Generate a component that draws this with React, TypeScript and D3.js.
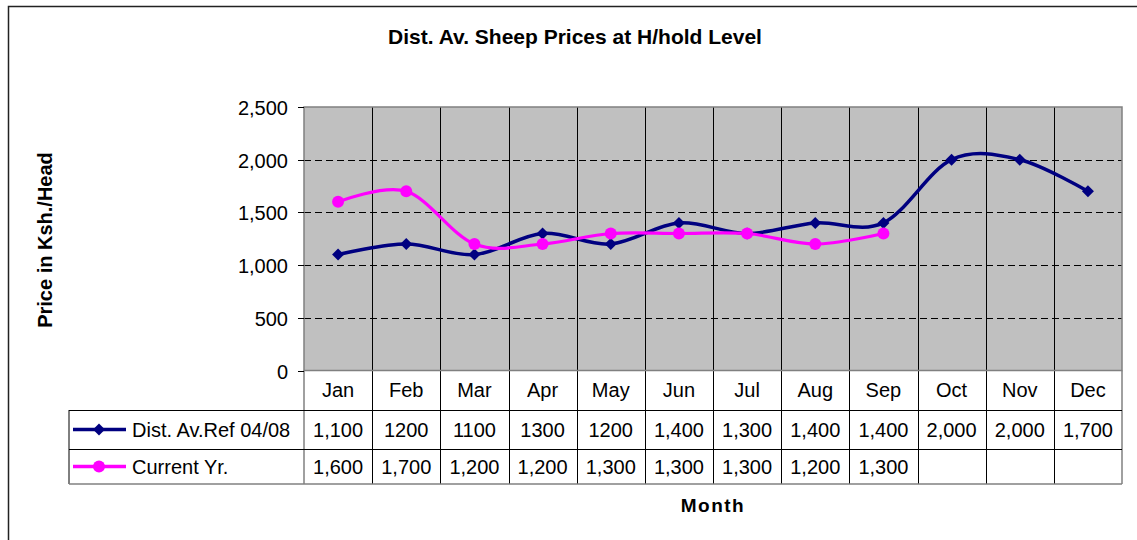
import * as d3 from "d3";
import { useEffect, useRef } from "react";

const months = ["Jan", "Feb", "Mar", "Apr", "May", "Jun", "Jul", "Aug", "Sep", "Oct", "Nov", "Dec"];
const refValues = [1100, 1200, 1100, 1300, 1200, 1400, 1300, 1400, 1400, 2000, 2000, 1700];
const refLabels = ["1,100", "1200", "1100", "1300", "1200", "1,400", "1,300", "1,400", "1,400", "2,000", "2,000", "1,700"];
const curValues = [1600, 1700, 1200, 1200, 1300, 1300, 1300, 1200, 1300];
const curLabels = ["1,600", "1,700", "1,200", "1,200", "1,300", "1,300", "1,300", "1,200", "1,300"];
const yTicks = [0, 500, 1000, 1500, 2000, 2500];

const FONT = "'Liberation Sans', Arial, sans-serif";

export default function App() {
    const svgRef = useRef<SVGSVGElement | null>(null);

    useEffect(() => {
        if (!svgRef.current) return;
        const svg = d3.select(svgRef.current);
        svg.selectAll("*").remove();

        const W = 1137;
        const H = 540;
        const left = 304;
        const right = 1122;
        const top = 107;
        const bottom = 370.5;
        const rowH = [372, 410, 449, 484];
        const legendLeft = 69;

        svg.attr("width", W).attr("height", H);

        // outer frame
        svg.append("rect")
            .attr("x", 8.5).attr("y", 6.5)
            .attr("width", W + 10).attr("height", H + 10)
            .attr("fill", "#fff").attr("stroke", "#222").attr("stroke-width", 1.5);

        const x = d3.scaleBand<string>().domain(months).range([left, right]);
        const y = d3.scaleLinear().domain([0, 2500]).range([bottom, top]);
        const cx = (m: string) => x(m)! + x.bandwidth() / 2;

        // plot area
        svg.append("rect")
            .attr("x", left).attr("y", top)
            .attr("width", right - left).attr("height", bottom - top)
            .attr("fill", "#c0c0c0");

        yTicks.filter((t) => t > 0 && t < 2500).forEach((t) => {
            svg.append("line")
                .attr("x1", left).attr("x2", right)
                .attr("y1", Math.round(y(t)) + 0.5).attr("y2", Math.round(y(t)) + 0.5)
                .attr("stroke", "#000").attr("stroke-dasharray", "7,4");
        });

        // vertical category lines through plot and table
        months.slice(1).forEach((m) => {
            const xx = Math.round(x(m)!) + 0.5;
            svg.append("line")
                .attr("x1", xx).attr("x2", xx)
                .attr("y1", top).attr("y2", rowH[3])
                .attr("stroke", "#000").attr("stroke-width", 1);
        });

        svg.append("rect")
            .attr("x", left).attr("y", top)
            .attr("width", right - left).attr("height", bottom - top)
            .attr("fill", "none").attr("stroke", "#808080").attr("stroke-width", 1.5);

        // table
        const tbl = svg.append("g").attr("stroke", "#000").attr("stroke-width", 1);
        tbl.append("line").attr("x1", left).attr("x2", left).attr("y1", bottom).attr("y2", rowH[3]).attr("stroke", "#808080").attr("stroke-width", 1.5);
        tbl.append("line").attr("x1", right).attr("x2", right).attr("y1", bottom).attr("y2", rowH[3]).attr("stroke", "#808080").attr("stroke-width", 1.5);
        tbl.append("line").attr("x1", legendLeft).attr("x2", legendLeft).attr("y1", rowH[1]).attr("y2", rowH[3]);
        tbl.append("line").attr("x1", legendLeft).attr("x2", right).attr("y1", rowH[1] + 0.5).attr("y2", rowH[1] + 0.5);
        tbl.append("line").attr("x1", legendLeft).attr("x2", right).attr("y1", rowH[2] + 0.5).attr("y2", rowH[2] + 0.5);
        tbl.append("line").attr("x1", legendLeft).attr("x2", right).attr("y1", rowH[3]).attr("y2", rowH[3]).attr("stroke", "#808080").attr("stroke-width", 1.5);

        const textG = svg.append("g").attr("font-family", FONT).attr("font-size", 20).attr("fill", "#000");
        months.forEach((m) => {
            textG.append("text").attr("x", cx(m)).attr("y", (rowH[0] + rowH[1]) / 2 + 6)
                .attr("text-anchor", "middle").text(m);
        });
        refLabels.forEach((l, i) => {
            textG.append("text").attr("x", cx(months[i])).attr("y", (rowH[1] + rowH[2]) / 2 + 7)
                .attr("text-anchor", "middle").text(l);
        });
        curLabels.forEach((l, i) => {
            textG.append("text").attr("x", cx(months[i])).attr("y", (rowH[2] + rowH[3]) / 2 + 7)
                .attr("text-anchor", "middle").text(l);
        });

        // y axis
        yTicks.forEach((t) => {
            const yy = Math.round(y(t)) + 0.5;
            svg.append("line").attr("x1", left - 6).attr("x2", left).attr("y1", yy).attr("y2", yy)
                .attr("stroke", "#000");
            textG.append("text").attr("x", left - 16).attr("y", yy + 7)
                .attr("text-anchor", "end").text(d3.format(",")(t));
        });

        // series
        const line = d3.line<number>()
            .x((d, i) => cx(months[i]))
            .y((d) => y(d))
            .curve(d3.curveCatmullRom.alpha(0));

        svg.append("path").datum(refValues)
            .attr("fill", "none").attr("stroke", "#000080").attr("stroke-width", 3.5)
            .attr("d", line);
        svg.append("path").datum(curValues)
            .attr("fill", "none").attr("stroke", "#ff00ff").attr("stroke-width", 3.2)
            .attr("d", line);

        const diamond = d3.symbol().type(d3.symbolSquare).size(72);
        refValues.forEach((v, i) => {
            svg.append("path").attr("d", diamond())
                .attr("transform", `translate(${cx(months[i])},${y(v)}) rotate(45)`)
                .attr("fill", "#000080");
        });
        curValues.forEach((v, i) => {
            svg.append("circle").attr("cx", cx(months[i])).attr("cy", y(v)).attr("r", 6)
                .attr("fill", "#ff00ff");
        });

        // legend keys
        const legendRows = [
            { y: (rowH[1] + rowH[2]) / 2, color: "#000080", label: "Dist. Av.Ref 04/08", marker: "diamond" },
            { y: (rowH[2] + rowH[3]) / 2, color: "#ff00ff", label: "Current Yr.", marker: "circle" },
        ];
        legendRows.forEach((r) => {
            svg.append("line").attr("x1", 73).attr("x2", 126).attr("y1", r.y).attr("y2", r.y)
                .attr("stroke", r.color).attr("stroke-width", 3.5);
            if (r.marker === "diamond") {
                svg.append("path").attr("d", diamond()).attr("transform", `translate(99,${r.y}) rotate(45)`).attr("fill", r.color);
            } else {
                svg.append("circle").attr("cx", 99).attr("cy", r.y).attr("r", 6).attr("fill", r.color);
            }
            textG.append("text").attr("x", 132).attr("y", r.y + 7).text(r.label);
        });

        // titles
        svg.append("text").attr("x", 575).attr("y", 44)
            .attr("text-anchor", "middle").attr("font-family", FONT).attr("font-size", 21).attr("font-weight", "bold")
            .text("Dist. Av. Sheep Prices at H/hold Level");
        svg.append("text").attr("x", 713).attr("y", 512)
            .attr("text-anchor", "middle").attr("font-family", FONT).attr("font-size", 19).attr("font-weight", "bold")
            .attr("letter-spacing", 1.5)
            .text("Month");
        svg.append("text")
            .attr("transform", "translate(52,240) rotate(-90)")
            .attr("text-anchor", "middle").attr("font-family", FONT).attr("font-size", 20).attr("font-weight", "bold")
            .text("Price in Ksh./Head");
    }, []);

    return <svg ref={svgRef} style={{ position: "absolute", left: 0, top: 0, overflow: "hidden" }} />;
}
